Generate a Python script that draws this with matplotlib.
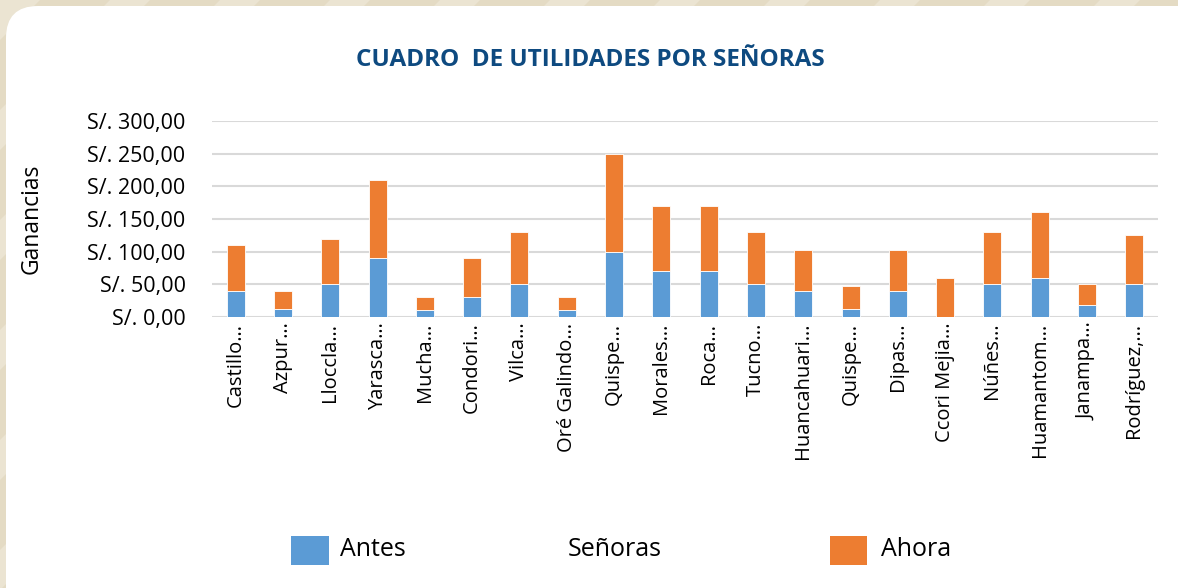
import numpy as np
import matplotlib.pyplot as plt
from matplotlib.patches import FancyBboxPatch, Polygon, Rectangle

# data
senoras = ["Castillo…", "Azpur…", "Lloccla…", "Yarasca…", "Mucha…", "Condori…",
           "Vilca…", "Oré Galindo…", "Quispe…", "Morales…", "Roca…", "Tucno…",
           "Huancahuari…", "Quispe…", "Dipas…", "Ccori Mejia…", "Núñes…",
           "Huamantom…", "Janampa…", "Rodríguez,…"]
antes = [40, 13, 50, 90, 10, 30, 50, 10, 100, 70, 70, 50, 40, 13, 40, 0, 50, 60, 18, 50]
ahora = [70, 27, 70, 120, 20, 60, 80, 20, 150, 100, 100, 80, 62, 35, 62, 60, 80, 100, 32, 75]
y_ticks = [0, 50, 100, 150, 200, 250, 300]

BLUE = "#5b9bd5"
ORANGE = "#ed7d31"
TITLE_COLOR = "#0e4a80"
W, H = 1178, 588

plt.rcParams["font.family"] = ["Open Sans", "DejaVu Sans"]

fig = plt.figure(figsize=(W / 100, H / 100), dpi=100)
fig.patch.set_facecolor("#e4dbc4")

# background stripes + rounded white card (figure pixel coords, y up)
bg = fig.add_axes([0, 0, 1, 1], zorder=-10)
bg.set_xlim(0, W); bg.set_ylim(0, H); bg.axis("off")
for x0 in range(-H, W + H, 110):
    bg.add_patch(Polygon([(x0, 0), (x0 + 40, 0), (x0 + 40 + H, H), (x0 + H, H)],
                         closed=True, facecolor="#ebe4d2", edgecolor="none"))
bg.add_patch(FancyBboxPatch((6, -40), W + 30, H - 6 + 40,
                            boxstyle="round,pad=0,rounding_size=32",
                            facecolor="white", edgecolor="none"))

# main chart
ax = fig.add_axes([212 / W, 1 - 317 / H, (1158 - 212) / W, (317 - 121) / H])
x = np.arange(len(senoras))
ax.bar(x, antes, width=0.38, color=BLUE, edgecolor="white", linewidth=0.6, zorder=3)
ax.bar(x, ahora, width=0.38, bottom=antes, color=ORANGE, edgecolor="white",
       linewidth=0.6, zorder=3)

ax.set_xlim(-0.5, len(senoras) - 0.5)
ax.set_ylim(0, 300)
ax.set_yticks(y_ticks)
ax.set_yticklabels(["S/. " + f"{v:.2f}".replace(".", ",") for v in y_ticks], fontsize=15.5)
ax.set_xticks(x)
ax.set_xticklabels(senoras, rotation=90, fontsize=14.5)
ax.tick_params(axis="y", length=0, pad=19)
ax.tick_params(axis="x", length=0, pad=4)
ax.grid(axis="y", color="#d9d9d9", linewidth=1.5, zorder=0)
for s in ax.spines.values():
    s.set_visible(False)
ax.set_facecolor("none")
ax.set_ylabel("Ganancias", fontsize=16.5, labelpad=0)
ax.yaxis.set_label_coords((44 - 212) / (1158 - 212), 0.5)

fig.text(590 / W, 1 - 60 / H, "CUADRO  DE UTILIDADES POR SEÑORAS", ha="center",
         va="center", fontsize=17.5, fontweight="bold", color=TITLE_COLOR)

# legend drawn by hand to match the spacing of the original
leg_y = H - 550
bg.add_patch(Rectangle((291, leg_y - 14.5), 38, 29, facecolor=BLUE, edgecolor="none"))
bg.text(340, leg_y, "Antes", fontsize=18, va="center", ha="left")
bg.text(568, leg_y, "Señoras", fontsize=18, va="center", ha="left")
bg.add_patch(Rectangle((830, leg_y - 14.5), 37, 29, facecolor=ORANGE, edgecolor="none"))
bg.text(881, leg_y, "Ahora", fontsize=18, va="center", ha="left")

fig.savefig("out.png", dpi=100, facecolor=fig.get_facecolor())
